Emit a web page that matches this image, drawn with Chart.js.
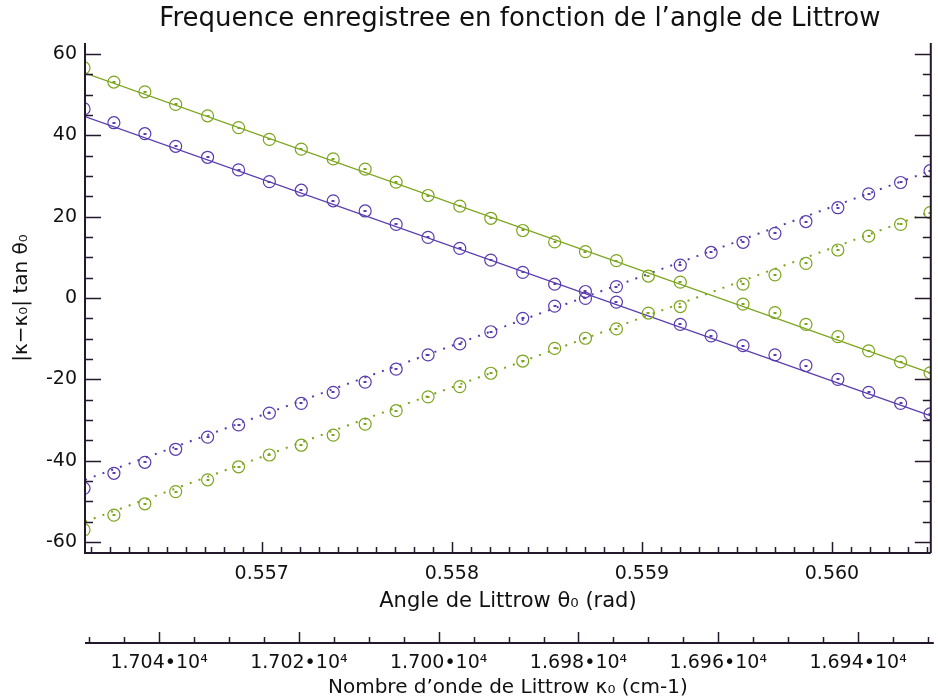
<!DOCTYPE html>
<html>
<head>
<meta charset="utf-8">
<script src="https://cdn.jsdelivr.net/npm/chart.js@4.4.1/dist/chart.umd.min.js"></script>
<style>
html,body{margin:0;padding:0;background:#ffffff;}
#wrap{width:938px;height:700px;}
</style>
</head>
<body>
<div id="wrap"><canvas id="c" width="938" height="700"></canvas></div>
<script>
// ---- data ----
const theta = [0.556065, 0.556222, 0.556385, 0.556547, 0.556715, 0.556878, 0.557040, 0.557208,
               0.557376, 0.557544, 0.557707, 0.557875, 0.558042, 0.558205, 0.558373, 0.558541,
               0.558703, 0.558866, 0.559034, 0.559202, 0.559364, 0.559532, 0.559700, 0.559863,
               0.560031, 0.560193, 0.560361, 0.560516];
const greenSolid  = [56.6, 53.1, 50.7, 47.6, 44.8, 41.9, 39.0, 36.6, 34.2, 31.7, 28.5, 25.2, 22.6, 19.6,
                     16.6, 13.8, 11.4, 9.2, 5.4, 3.9, null, -1.5, -3.6, -6.5, -9.5, -13.0, -15.7, -18.4];
const purpleSolid = [46.5, 43.1, 40.4, 37.3, 34.6, 31.5, 28.6, 26.5, 23.9, 21.4, 18.1, 14.9, 12.2, 9.3,
                     6.3, 3.4, -0.1, -1.0, null, -6.5, -9.3, -11.7, -14.0, -16.6, -20.0, -23.2, -25.9, -28.5];
const purpleDotted = [-46.8, -43.1, -40.4, -37.2, -34.2, -31.2, -28.3, -25.9, -23.2, -20.7, -17.5, -14.0, -11.3, -8.3,
                      -5.0, -2.0, 1.6, 2.8, null, 8.1, 11.2, 13.7, 15.9, 18.8, 22.2, 25.6, 28.4, 31.3];
const greenDotted = [-57.0, -53.4, -50.6, -47.6, -44.7, -41.5, -38.6, -36.2, -33.7, -31.0, -27.7, -24.3, -21.8, -18.5,
                     -15.5, -12.4, -9.9, -7.6, -3.7, -2.1, null, 3.4, 5.7, 8.5, 11.8, 15.2, 18.1, 21.0];
// fitted straight lines (end points at the plot edges)
const fitTheta = [0.55607, 0.56052];
const greenSolidFit  = [55.3, -18.5];
const purpleSolidFit = [44.6, -29.0];
const purpleDottedFit = [-44.7, 31.3];
const greenDottedFit = [-55.0, 21.2];
// axes
const thetaRange = [0.55607, 0.56052];
const yRange = [-62.7, 62.7];
const kappaRange = [16929.6, 17050.6];
const xTickValues = [0.557, 0.558, 0.559, 0.560];
const yTickValues = [-60, -40, -20, 0, 20, 40, 60];
const kappaTickValues = [17040, 17020, 17000, 16980, 16960, 16940];

const TITLE = "Frequence enregistree en fonction de l\u2019angle de Littrow";
const X_TITLE = "Angle de Littrow \u03B8\u2080 (rad)";
const X2_TITLE = "Nombre d\u2019onde de Littrow \u03BA\u2080 (cm-1)";
const Y_TITLE = "|\u03BA\u2212\u03BA\u2080| tan \u03B8\u2080";

const PURPLE = '#5a3cae';
const GREEN = '#7ca51e';
const AXIS = '#24192c';
const FONT = "'DejaVu Sans', 'Noto Sans', sans-serif";

function pts(arr) {
  const out = [];
  arr.forEach((v, i) => { if (v !== null) out.push({x: theta[i], y: v}); });
  return out;
}
function fit(arr) { return fitTheta.map((t, i) => ({x: t, y: arr[i]})); }

function pointSet(label, arr, color) {
  return {
    label, data: pts(arr), showLine: false, pointStyle: 'circle', pointRadius: 6,
    pointBorderWidth: 1.2, borderColor: color, backgroundColor: 'rgba(0,0,0,0)',
    pointBackgroundColor: 'rgba(0,0,0,0)', pointBorderColor: color, clip: 0, _mark: true, order: 1
  };
}
function lineSet(label, arr, color, dotted) {
  return {
    label, data: fit(arr), showLine: true, pointRadius: 0, borderColor: color,
    borderWidth: dotted ? 2 : 1.3, borderDash: dotted ? [2, 7.3] : [], borderCapStyle: 'butt',
    backgroundColor: 'rgba(0,0,0,0)', fill: false, clip: 0, order: 2
  };
}

const titleShift = {
  id: 'titleShift',
  afterLayout(chart) {
    if (chart.titleBlock) { chart.titleBlock.left += 24; }
  }
};

const axesPlugin = {
  id: 'axesPlugin',
  afterDatasetsDraw(chart) {
    const {ctx, chartArea: a, scales} = chart;
    // centre marks inside the circles
    ctx.save();
    ctx.beginPath(); ctx.rect(a.left, a.top, a.right - a.left, a.bottom - a.top); ctx.clip();
    chart.data.datasets.forEach((ds, di) => {
      if (!ds._mark) return;
      const meta = chart.getDatasetMeta(di);
      ctx.fillStyle = ds.pointBorderColor;
      meta.data.forEach(el => { ctx.fillRect(Math.round(el.x) - 1.5, Math.round(el.y) - 1, 3, 2); });
    });
    ctx.restore();

    ctx.save();
    ctx.strokeStyle = AXIS;
    ctx.lineWidth = 2;
    ctx.beginPath();
    ctx.moveTo(a.left, a.top); ctx.lineTo(a.left, a.bottom); ctx.lineTo(a.right, a.bottom);
    ctx.moveTo(a.right, a.top); ctx.lineTo(a.right, a.bottom);
    const y2 = scales.x2.top;
    ctx.moveTo(a.left, y2); ctx.lineTo(a.right + 3, y2);
    ctx.stroke();

    ctx.lineWidth = 1.5;
    ctx.beginPath();
    // y ticks (both sides, pointing inwards)
    for (let v = -60; v <= 60; v += 5) {
      const py = Math.round(scales.y.getPixelForValue(v)) + 0.5;
      const len = (v % 20 === 0) ? 16 : 8;
      ctx.moveTo(a.left, py); ctx.lineTo(a.left + len, py);
      ctx.moveTo(a.right, py); ctx.lineTo(a.right - len, py);
    }
    // theta ticks
    for (let i = 5561; i <= 5605; i++) {
      const px = Math.round(scales.x.getPixelForValue(i / 10000)) + 0.5;
      const len = (i % 10 === 0) ? 11 : 6;
      ctx.moveTo(px, a.bottom); ctx.lineTo(px, a.bottom - len);
    }
    // kappa ticks
    for (let k = 16930; k <= 17050; k += 5) {
      const px = Math.round(scales.x2.getPixelForValue(k)) + 0.5;
      const len = (k % 20 === 0) ? 11 : 6;
      ctx.moveTo(px, y2); ctx.lineTo(px, y2 - len);
    }
    ctx.stroke();
    ctx.restore();
  }
};

const tickFont = {family: FONT, size: 19};
const titleFont = {family: FONT, size: 20};

new Chart(document.getElementById('c'), {
  type: 'scatter',
  data: {
    datasets: [
      pointSet('greenSolid', greenSolid, GREEN),
      pointSet('purpleSolid', purpleSolid, PURPLE),
      pointSet('purpleDotted', purpleDotted, PURPLE),
      pointSet('greenDotted', greenDotted, GREEN),
      lineSet('greenSolidFit', greenSolidFit, GREEN, false),
      lineSet('purpleSolidFit', purpleSolidFit, PURPLE, false),
      lineSet('purpleDottedFit', purpleDottedFit, PURPLE, true),
      lineSet('greenDottedFit', greenDottedFit, GREEN, true)
    ]
  },
  options: {
    responsive: false,
    animation: false,
    devicePixelRatio: 1,
    layout: {padding: {left: 0, right: 5, top: 0, bottom: 0}},
    plugins: {
      legend: {display: false},
      tooltip: {enabled: false},
      title: {
        display: true, text: TITLE, fullSize: false, color: '#111',
        font: {family: FONT, size: 26, weight: 'normal'},
        padding: {top: 4, bottom: 7.8}
      }
    },
    scales: {
      x: {
        type: 'linear', position: 'bottom', weight: 0,
        min: thetaRange[0], max: thetaRange[1],
        afterBuildTicks: s => { s.ticks = xTickValues.map(v => ({value: v})); },
        afterFit: s => { s.height = 90; },
        grid: {display: false, drawTicks: false},
        border: {display: false},
        ticks: {font: tickFont, color: '#111', padding: 10, maxRotation: 0, autoSkip: false,
                callback: v => Number(v).toFixed(3)},
        title: {display: true, text: X_TITLE, font: {family: FONT, size: 21}, color: '#111', padding: {top: 0, bottom: 29}}
      },
      x2: {
        type: 'linear', position: 'bottom', weight: 1, reverse: true,
        min: kappaRange[0], max: kappaRange[1],
        afterBuildTicks: s => { s.ticks = kappaTickValues.map(v => ({value: v})); },
        afterFit: s => { s.height = 57; },
        grid: {display: false, drawTicks: false},
        border: {display: false},
        ticks: {font: tickFont, color: '#111', padding: 8.6, maxRotation: 0, autoSkip: false,
                callback: v => (v / 10000).toFixed(3) + '\u2022' + '10\u2074'},
        title: {display: true, text: X2_TITLE, font: titleFont, color: '#111', padding: {top: 0, bottom: 0}}
      },
      y: {
        type: 'linear', position: 'left',
        min: yRange[0], max: yRange[1],
        afterBuildTicks: s => { s.ticks = yTickValues.map(v => ({value: v})); },
        afterFit: s => { s.width = 85; },
        grid: {display: false, drawTicks: false},
        border: {display: false},
        ticks: {font: tickFont, color: '#111', padding: 8, callback: v => String(v)},
        title: {display: true, text: Y_TITLE, font: titleFont, color: '#111', padding: {top: 10, bottom: 0}}
      }
    }
  },
  plugins: [titleShift, axesPlugin]
});
</script>
</body>
</html>
